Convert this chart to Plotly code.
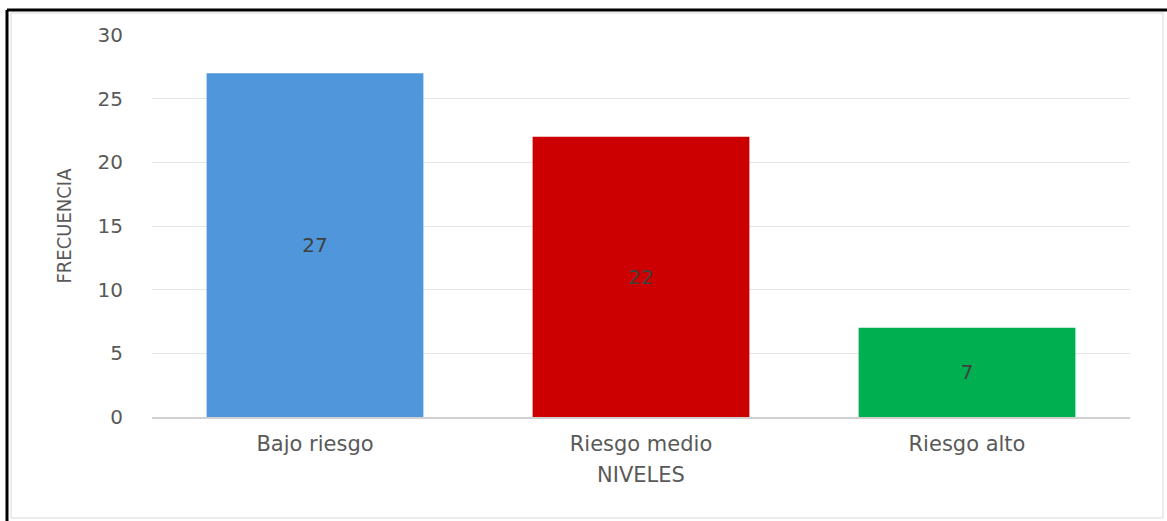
import plotly.graph_objects as go

categories = ["Bajo riesgo", "Riesgo medio", "Riesgo alto"]
values = [27, 22, 7]
colors = ["#5096DB", "#CC0000", "#00B050"]
y_ticks = [0, 5, 10, 15, 20, 25, 30]

fig = go.Figure()
fig.add_trace(go.Bar(
    x=categories, y=values, marker=dict(color=colors, line=dict(width=0)),
    text=[str(v) for v in values], textposition="inside", insidetextanchor="middle",
    textfont=dict(family="DejaVu Sans", size=20, color="#404040"),
    width=0.665, showlegend=False,
))

W, H = 1167, 521
L, R, T, B = 152, 37, 35, 104
pw, ph = W - L - R, H - T - B

def px(x):
    return (x - L) / pw

def py(y):
    return (H - B - y) / ph

fig.update_layout(
    width=W, height=H,
    margin=dict(l=L, r=R, t=T, b=B),
    paper_bgcolor="white", plot_bgcolor="white",
    bargap=0.335,
    xaxis=dict(
        showgrid=False, showline=True, linecolor="#D0D0D0", linewidth=1.5,
        ticks="", tickfont=dict(family="DejaVu Sans", size=21, color="#595959"),
        ticklabelstandoff=7,
        title=dict(text="NIVELES", font=dict(family="DejaVu Sans", size=21, color="#595959"), standoff=12),
    ),
    yaxis=dict(
        range=[0, 30], tickvals=y_ticks, showgrid=True, gridcolor="#E6E6E6", gridwidth=1,
        zeroline=False, showline=False, ticks="",
        tickfont=dict(family="DejaVu Sans", size=20, color="#595959"),
        ticklabelstandoff=28,
        title=dict(text="FRECUENCIA", font=dict(family="Liberation Sans Narrow, DejaVu Sans Condensed, Arial", size=20, color="#595959"), standoff=20),
    ),
    shapes=[
        dict(type="line", xref="paper", yref="paper", x0=px(7), x1=px(1167), y0=py(10), y1=py(10), line=dict(color="black", width=3)),
        dict(type="line", xref="paper", yref="paper", x0=px(7), x1=px(7), y0=py(10), y1=py(521), line=dict(color="black", width=3)),
        dict(type="rect", xref="paper", yref="paper", x0=px(11), x1=px(1163), y0=py(518), y1=py(13), line=dict(color="#D9D9D9", width=1)),
    ],
)

fig.write_html("out.html")
